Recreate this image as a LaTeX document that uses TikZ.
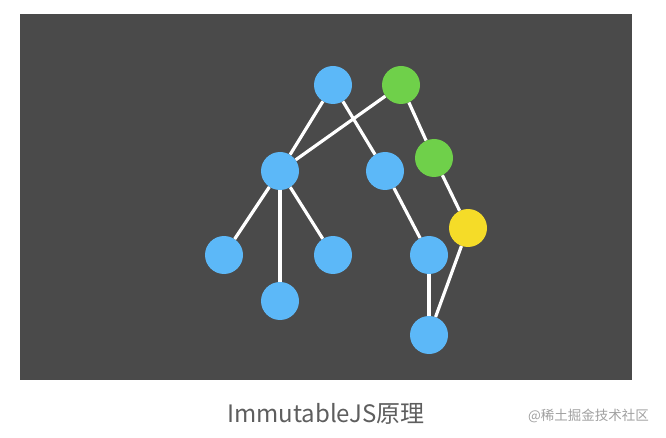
\documentclass[tikz,border=0pt]{standalone}
\usepackage{fontspec}
\newfontfamily\cjk{Noto Sans CJK SC}
\definecolor{bgdark}{HTML}{4A4A4A}
\definecolor{nblue}{HTML}{5CB8F8}
\definecolor{ngreen}{HTML}{6FD04A}
\definecolor{nyellow}{HTML}{F5DC28}
\definecolor{captiongray}{HTML}{5E5E5E}
\definecolor{markgray}{HTML}{A0A0A0}
\begin{document}
\begin{tikzpicture}[x=1pt,y=-1pt,
  nd/.style={circle,minimum size=38pt,inner sep=0pt,draw=none},
  bl/.style={nd,fill=nblue},
  gr/.style={nd,fill=ngreen},
  ye/.style={nd,fill=nyellow},
  edge/.style={white,line width=3.2pt}]
\useasboundingbox (0,0) rectangle (666,438);
\fill[bgdark] (20,14.5) rectangle (632,380);
\node[bl] (A) at (333,85) {};
\node[gr] (B) at (401,85) {};
\node[bl] (C) at (280,171) {};
\node[bl] (D) at (385,171) {};
\node[gr] (E) at (434,158) {};
\node[ye] (F) at (468,228) {};
\node[bl] (G) at (224,255) {};
\node[bl] (H) at (333,255) {};
\node[bl] (I) at (280,301) {};
\node[bl] (J) at (429,255) {};
\node[bl] (K) at (429,335) {};
\begin{scope}[on background layer/.try]
\end{scope}
\draw[edge] (A) -- (C);
\draw[edge] (A) -- (D);
\draw[edge] (B) -- (C);
\draw[edge] (B) -- (E);
\draw[edge] (E) -- (F);
\draw[edge] (D) -- (J);
\draw[edge] (J) -- (K);
\draw[edge] (F) -- (K);
\draw[edge] (C) -- (G);
\draw[edge] (C) -- (H);
\draw[edge] (C) -- (I);
\node[text=captiongray,font=\cjk\fontsize{24}{28}\selectfont,inner sep=0pt] (cap) at (326,414) {ImmutableJS原理};
\node[text=markgray,font=\cjk\fontsize{13.5}{16}\selectfont,inner sep=0pt,anchor=west] (mark) at (528,416) {@稀土掘金技术社区};
\end{tikzpicture}
\end{document}
